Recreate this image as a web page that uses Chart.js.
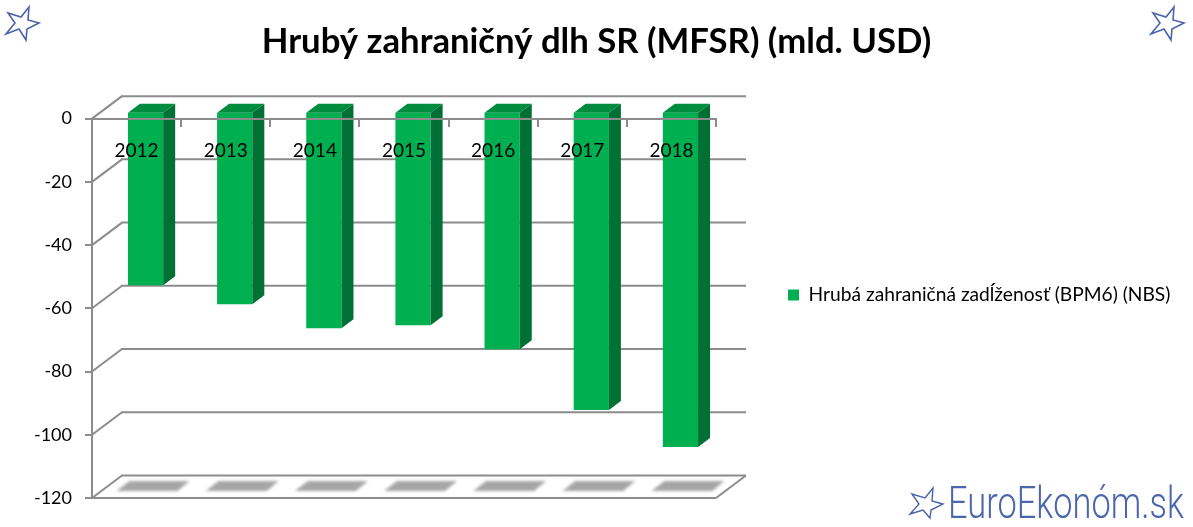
<!DOCTYPE html>
<html>
<head>
<meta charset="utf-8">
<title>Hrubý zahraničný dlh SR</title>
<script src="https://cdn.jsdelivr.net/npm/chart.js@4"></script>
<style>
    body { margin: 0; background: #fff; }
    #wrap { position: relative; width: 1193px; height: 527px; overflow: hidden; }
    #graph { position: absolute; left: 0; top: 0; }
    svg.star { position: absolute; overflow: visible; }
    #logo {
        position: absolute; left: 948px; top: 478px;
        font: 300 45px/50px Roboto, sans-serif; color: #4a66ac;
        transform: scaleX(0.765); transform-origin: left top; white-space: nowrap;
    }
</style>
</head>
<body>
<div id="wrap">
    <canvas id="graph" width="1193" height="527"></canvas>
    <svg class="star" style="left:0;top:0" width="45" height="45"><polygon points="29,7 28,20 39,23 27,29 26,40 19,29 6,34 15,23 8,13 21,17" fill="none" stroke="#4a63ad" stroke-width="1.6"/></svg>
    <svg class="star" style="left:1145px;top:0" width="45" height="45"><polygon points="29,7 28,20 39,23 27,29 26,40 19,29 6,34 15,23 8,13 21,17" fill="none" stroke="#4a63ad" stroke-width="1.6"/></svg>
    <svg class="star" style="left:904px;top:481px" width="45" height="45"><polygon points="29,7 28,20 39,23 27,29 26,37 19,29 6,33 15,23 8,13 21,17" fill="none" stroke="#4a63ad" stroke-width="1.4"/></svg>
    <div id="logo">EuroEkonóm.sk</div>
</div>
<script>
const titleText = 'Hrubý zahraničný dlh SR (MFSR) (mld. USD)';
const seriesName = 'Hrubá zahraničná zadĺženosť (BPM6) (NBS)';
const years = ['2012', '2013', '2014', '2015', '2016', '2017', '2018'];
const debt = [-54.9, -60.9, -68.5, -67.6, -75.2, -94.4, -106.1];
const yMin = -120;
const yMax = 0;
const yStep = 20;

const gridColor = '#8c8c8c';
const font = 'Lato';

// fake 3d: how far the back wall and the bars sit from the front plane
const wall = { x: 30, y: -22.5 };
const barShift = { x: 9, y: -7 };
const barDepth = { x: 12, y: -9 };

function line(ctx, x1, y1, x2, y2) {
    ctx.beginPath();
    ctx.moveTo(x1, y1);
    ctx.lineTo(x2, y2);
    ctx.stroke();
}

function poly(ctx, pts, color) {
    ctx.fillStyle = color;
    ctx.beginPath();
    pts.forEach((p, i) => i ? ctx.lineTo(p[0], p[1]) : ctx.moveTo(p[0], p[1]));
    ctx.closePath();
    ctx.fill();
}

const box3d = {
    id: 'box3d',
    afterLayout(chart) {
        // title spans the whole page, legend sits apart from the plot
        const title = chart.titleBlock;
        title.left = 0;
        title.right = chart.width;
        title.width = chart.width;

        const legend = chart.legend;
        const dy = 295 - (legend.top + legend.bottom) / 2;
        legend.left = 778;
        legend.right = chart.width;
        legend.width = legend.right - legend.left;
        legend.top += dy;
        legend.bottom += dy;
    },
    beforeDatasetsDraw(chart) {
        const { ctx, chartArea: a, scales: { x, y } } = chart;
        ctx.save();
        ctx.strokeStyle = gridColor;
        ctx.lineWidth = 2;
        // back wall lines and the left side wall
        y.ticks.forEach(t => {
            const py = y.getPixelForValue(t.value);
            line(ctx, a.left, py, a.left + wall.x, py + wall.y);
            line(ctx, a.left + wall.x - 1, py + wall.y, a.right + wall.x, py + wall.y);
        });
        // floor
        line(ctx, a.left, a.bottom, a.right, a.bottom);
        line(ctx, a.right, a.bottom, a.right + wall.x, a.bottom + wall.y);
        // bar shadows on the floor
        ctx.filter = 'blur(1.5px)';
        years.forEach((name, i) => {
            const c = x.getPixelForValue(i);
            poly(ctx, [[c - 20, a.bottom - 7], [c - 7, a.bottom - 17], [c + 53, a.bottom - 17], [c + 41, a.bottom - 7]], '#a6a6a6');
        });
        ctx.restore();
    },
    beforeDatasetDraw(chart) {
        chart.ctx.save();
        chart.ctx.translate(barShift.x, barShift.y);
    },
    afterDatasetDraw(chart, args) {
        const ctx = chart.ctx;
        args.meta.data.forEach(bar => {
            const l = bar.x - bar.width / 2;
            const r = bar.x + bar.width / 2;
            const d = barDepth;
            poly(ctx, [[l, bar.base], [l + d.x, bar.base + d.y], [r + d.x, bar.base + d.y], [r, bar.base]], '#008c3f');
            poly(ctx, [[r, bar.base], [r + d.x, bar.base + d.y], [r + d.x, bar.y + d.y], [r, bar.y]], '#007134');
        });
        ctx.restore();
    }
};

new Chart(document.getElementById('graph'), {
    type: 'bar',
    data: {
        labels: years,
        datasets: [{
            label: seriesName,
            data: debt,
            backgroundColor: '#00b050',
            barPercentage: 0.395,
            categoryPercentage: 1
        }]
    },
    options: {
        responsive: false,
        animation: false,
        layout: { padding: { left: 0, right: 377, top: 0, bottom: 29 } },
        scales: {
            x: {
                position: { y: 0 },
                grid: { drawOnChartArea: false, color: gridColor, lineWidth: 2, tickLength: 7, z: 1 },
                border: { color: gridColor, width: 2, z: 1 },
                ticks: { color: '#000', font: { family: font, size: 19 }, padding: 14, z: 1, maxRotation: 0 }
            },
            y: {
                min: yMin,
                max: yMax,
                afterFit(scale) { scale.width = 92; },
                grid: { drawOnChartArea: false, color: gridColor, lineWidth: 2, tickLength: 7 },
                border: { color: gridColor, width: 2 },
                ticks: { stepSize: yStep, color: '#000', font: { family: font, size: 18 }, padding: 13 }
            }
        },
        plugins: {
            title: {
                display: true,
                text: titleText,
                color: '#000',
                font: { family: font, size: 34.7, weight: 'bold' },
                padding: { top: 21, bottom: 56 }
            },
            legend: {
                position: 'right',
                maxWidth: 100,
                labels: { boxWidth: 11, boxHeight: 11, color: '#000', font: { family: font, size: 19.2 }, padding: 10 }
            },
            tooltip: { enabled: false }
        }
    },
    plugins: [box3d]
});
</script>
</body>
</html>
